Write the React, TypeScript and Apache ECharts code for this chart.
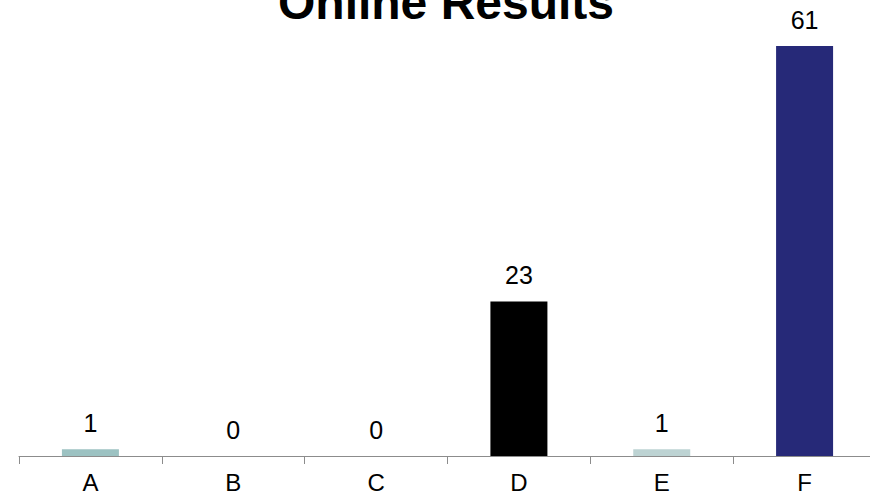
import React, { useEffect, useRef } from "react";
import * as echarts from "echarts";

const categories = ["A", "B", "C", "D", "E", "F"];
const values = [1, 0, 0, 23, 1, 61];
const barColors = ["#9CC2C2", "#9CC2C2", "#9CC2C2", "#000000", "#BDD3D3", "#262978"];
const titleText = "Online Results";

export default function App() {
  const ref = useRef<HTMLDivElement>(null);
  useEffect(() => {
    if (!ref.current) return;
    const chart = echarts.init(ref.current, null, { renderer: "svg" });
    chart.setOption({
      animation: false,
      backgroundColor: "#ffffff",
      graphic: [
        {
          type: "text",
          x: 446,
          y: 2,
          style: {
            text: titleText,
            fontFamily: "Liberation Sans",
            fontWeight: "bold",
            fontSize: 48,
            fill: "#000",
            align: "center",
            verticalAlign: "middle",
          },
        },
      ],
      grid: { left: 19, width: 857, top: 46, bottom: 40, containLabel: false },
      xAxis: {
        type: "category",
        data: categories,
        axisLine: { lineStyle: { color: "#8C8C8C", width: 1 } },
        axisTick: { show: true, length: 8, lineStyle: { color: "#8C8C8C" } },
        axisLabel: {
          color: "#000",
          fontFamily: "Liberation Sans",
          fontSize: 24,
          margin: 14,
        },
      },
      yAxis: {
        type: "value",
        min: 0,
        max: 61,
        show: false,
        splitLine: { show: false },
      },
      series: [
        {
          type: "bar",
          barWidth: 57,
          data: values.map((v, i) => ({ value: v, itemStyle: { color: barColors[i] } })),
          label: {
            show: true,
            position: "top",
            distance: 14,
            color: "#000",
            fontFamily: "Liberation Sans",
            fontSize: 25,
          },
        },
      ],
    });
    return () => chart.dispose();
  }, []);
  return (
    <div style={{ position: "fixed", left: 0, top: 0, width: 870, height: 496, overflow: "hidden" }}>
      <div ref={ref} style={{ width: 880, height: 496 }} />
    </div>
  );
}
